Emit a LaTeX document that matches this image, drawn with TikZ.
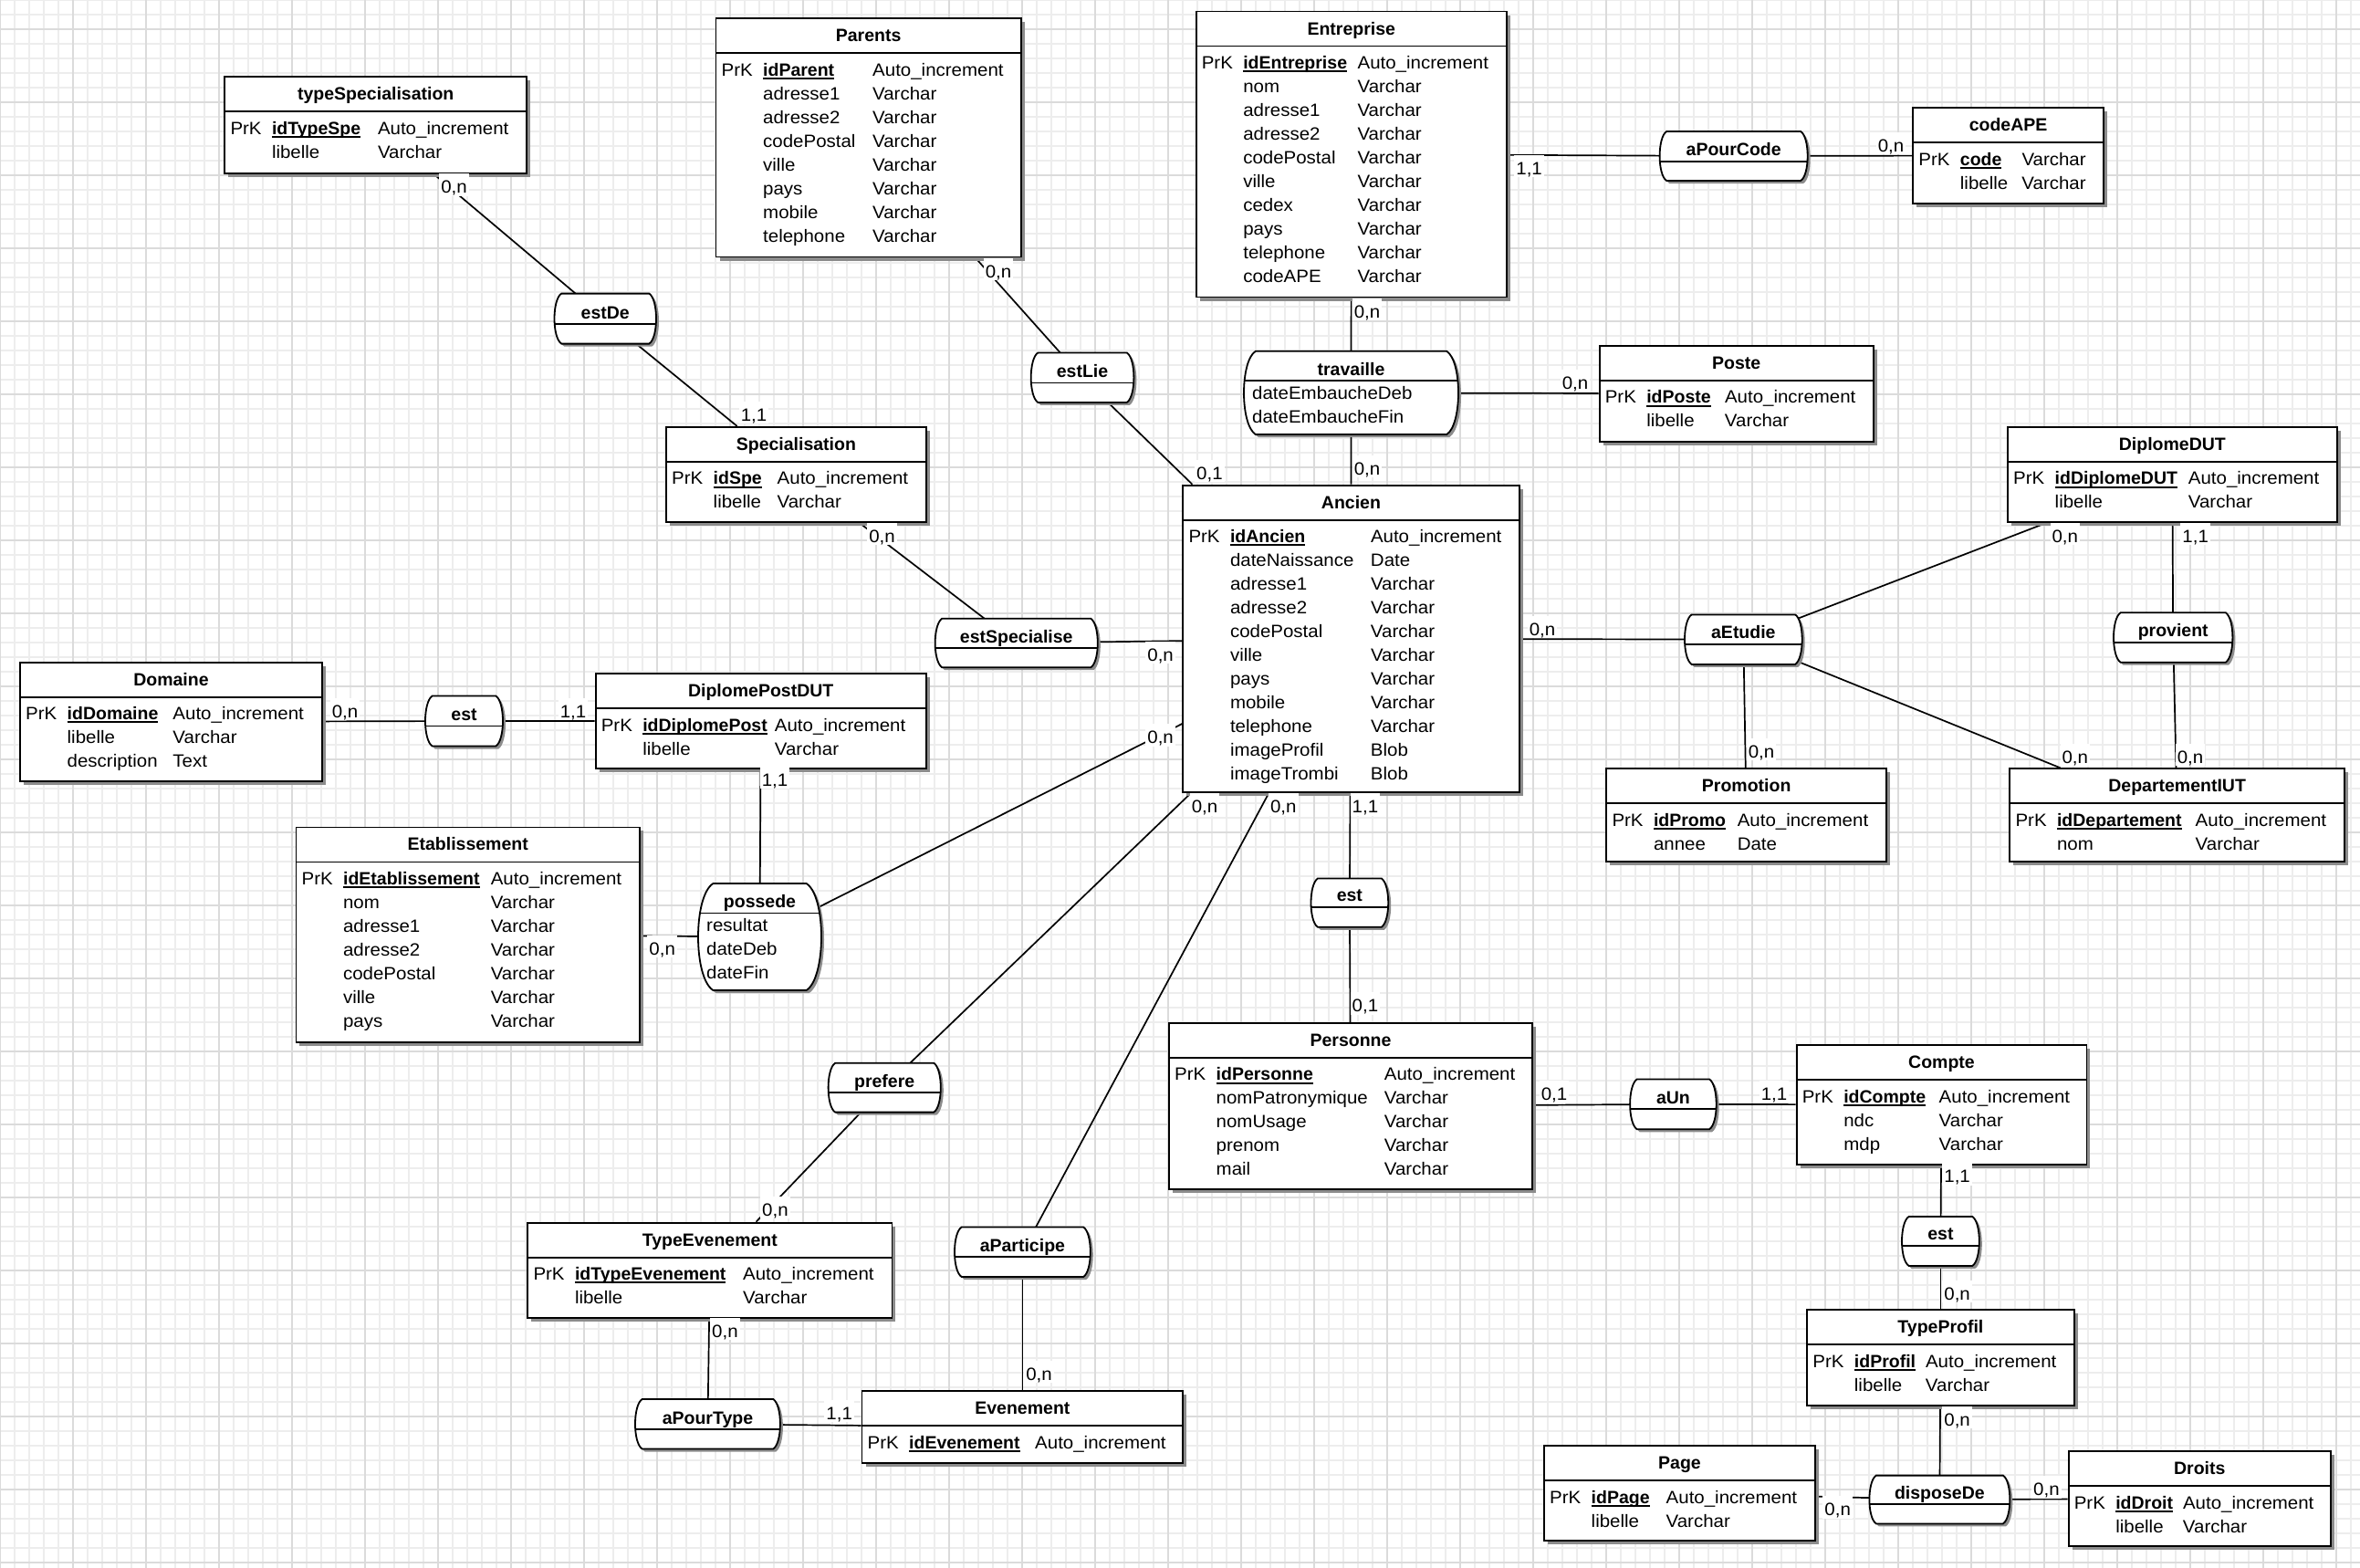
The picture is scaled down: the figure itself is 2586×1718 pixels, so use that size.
\documentclass[tikz,border=0pt]{standalone}
\usepackage{fontspec}
\setmainfont{Liberation Sans}[FakeStretch=1.05,BoldFeatures={FakeStretch=1.0}]
\usetikzlibrary{calc}
\pgfdeclarelayer{grid}
\pgfdeclarelayer{conn}
\pgfsetlayers{grid,conn,main}
\newlength\ctwo
\newlength\ulw
\newcommand\bodyfont{\fontsize{19.5}{26}\selectfont}
\newcommand\titlefont{\fontsize{19.5}{24}\selectfont\bfseries}
\newcommand\idu[1]{\settowidth\ulw{\bfseries #1}{\bfseries #1}\hspace{-\ulw}\rule[-3.7pt]{\ulw}{2pt}}
\newcommand\erow[3]{\makebox[45.5pt][l]{#1}\makebox[\ctwo][l]{#2}#3\\}
\newcommand\relpath[4]{({#1+\relc},{#2}) -- ({#3-\relc},{#2}) .. controls ({#3+\relc/3},{#2+\relv}) and ({#3+\relc/3},{#4-\relv}) .. ({#3-\relc},{#4}) -- ({#1+\relc},{#4}) .. controls ({#1-\relc/3},{#4-\relv}) and ({#1-\relc/3},{#2+\relv}) .. ({#1+\relc},{#2}) -- cycle}
\tikzset{
  ent/.style={draw, line width=1.8pt, fill=white, inner sep=0pt, rectangle},
  relnode/.style={inner sep=0pt, outer sep=0pt, rectangle},
  conn/.style={line width=1.7pt},
  card/.style={fill=white, inner xsep=2pt, inner ysep=0.5pt, text height=21pt, text depth=2.5pt, anchor=base, font=\bodyfont},
  ttl/.style={anchor=base, inner sep=0pt, font=\titlefont},
  body/.style={anchor=base west, inner sep=0pt, font=\bodyfont},
  shadowc/.style={fill=black!45},
  minorgrid/.style={draw=black!7, line width=1.2pt},
  majorgrid/.style={draw=black!14, line width=2pt},
}
\newcommand\erEntity[8]{%
  \fill[shadowc] ({#2+4},{#3+4}) rectangle ({#4+4},{#5+4});
  \node[ent, minimum width={#4-#2}, minimum height={#5-#3}] (#1) at ({(#2+#4)/2},{(#3+#5)/2}) {};
  \draw[line width=1.8pt] ({#2},{#3+38}) -- ({#4},{#3+38});
  \node[ttl] (#1-t) at ({(#2+#4)/2},{#3+25.5}) {#6};
  \node[body] (#1-b) at ({#2+6},{#3+63}) {\setlength\ctwo{#7pt}\begin{tabular}[t]{@{}l@{}}#8\end{tabular}};
}
\newcommand\erRel[7]{%
  \pgfmathsetmacro\relc{0.14*(#5-#3)}%
  \pgfmathsetmacro\relv{0.12*(#5-#3)}%
  \fill[shadowc, shift={(3,3)}] \relpath{#2}{#3}{#4}{#5};
  \filldraw[fill=white, line width=1.8pt] \relpath{#2}{#3}{#4}{#5};
  \begin{scope}
    \clip \relpath{#2}{#3}{#4}{#5};
    \draw[line width=1.8pt] ({#2-5},{#6}) -- ({#4+5},{#6});
  \end{scope}
  \node[relnode, minimum width={#4-#2}, minimum height={#5-#3}] (#1) at ({(#2+#4)/2},{(#3+#5)/2}) {};
  \node[ttl] (#1-t) at ({(#2+#4)/2},{#6-6}) {#7};
}
\begin{document}
\begin{tikzpicture}[x=1pt,y=-1pt]
\useasboundingbox (0,0) rectangle (2586,1718);
\begin{pgfonlayer}{grid}
  \fill[white] (0,0) rectangle (2586,1718);
  \foreach \i in {0,16,...,2586} \draw[minorgrid] (\i,0) -- (\i,1718);
  \foreach \j in {0,16,...,1718} \draw[minorgrid] (0,\j) -- (2586,\j);
  \foreach \i in {0,80,...,2586} \draw[majorgrid] (\i,0) -- (\i,1718);
  \foreach \j in {32,112,...,1718} \draw[majorgrid] (0,\j) -- (2586,\j);
\end{pgfonlayer}

% ---------- entities ----------
\erEntity{tspe}{246.3}{84.1}{577.2}{189.7}{typeSpecialisation}{116}{%
  \erow{PrK}{\idu{idTypeSpe}}{Auto\_increment}\erow{}{libelle}{Varchar}}
\erEntity{par}{784.5}{20.3}{1118.7}{281.5}{Parents}{120}{%
  \erow{PrK}{\idu{idParent}}{Auto\_increment}\erow{}{adresse1}{Varchar}\erow{}{adresse2}{Varchar}%
  \erow{}{codePostal}{Varchar}\erow{}{ville}{Varchar}\erow{}{pays}{Varchar}\erow{}{mobile}{Varchar}\erow{}{telephone}{Varchar}}
\erEntity{ent}{1310.6}{12.6}{1650.9}{325.5}{Entreprise}{125.3}{%
  \erow{PrK}{\idu{idEntreprise}}{Auto\_increment}\erow{}{nom}{Varchar}\erow{}{adresse1}{Varchar}\erow{}{adresse2}{Varchar}%
  \erow{}{codePostal}{Varchar}\erow{}{ville}{Varchar}\erow{}{cedex}{Varchar}\erow{}{pays}{Varchar}\erow{}{telephone}{Varchar}\erow{}{codeAPE}{Varchar}}
\erEntity{ape}{2096.2}{118.2}{2305}{222.6}{codeAPE}{67.6}{%
  \erow{PrK}{\idu{code}}{Varchar}\erow{}{libelle}{Varchar}}
\erEntity{spe}{730}{467.8}{1014.8}{571.7}{Specialisation}{70}{%
  \erow{PrK}{\idu{idSpe}}{Auto\_increment}\erow{}{libelle}{Varchar}}
\erEntity{poste}{1752.6}{378.8}{2052.7}{483.8}{Poste}{85.7}{%
  \erow{PrK}{\idu{idPoste}}{Auto\_increment}\erow{}{libelle}{Varchar}}
\erEntity{ddut}{2200}{467.8}{2560.7}{571.7}{DiplomeDUT}{146.2}{%
  \erow{PrK}{\idu{idDiplomeDUT}}{Auto\_increment}\erow{}{libelle}{Varchar}}
\erEntity{anc}{1296.3}{531.6}{1664.6}{868}{Ancien}{154}{%
  \erow{PrK}{\idu{idAncien}}{Auto\_increment}\erow{}{dateNaissance}{Date}\erow{}{adresse1}{Varchar}\erow{}{adresse2}{Varchar}%
  \erow{}{codePostal}{Varchar}\erow{}{ville}{Varchar}\erow{}{pays}{Varchar}\erow{}{mobile}{Varchar}\erow{}{telephone}{Varchar}%
  \erow{}{imageProfil}{Blob}\erow{}{imageTrombi}{Blob}}
\erEntity{dom}{22}{725.7}{353}{856}{Domaine}{115.8}{%
  \erow{PrK}{\idu{idDomaine}}{Auto\_increment}\erow{}{libelle}{Varchar}\erow{}{description}{Text}}
\erEntity{dpd}{652.6}{738.3}{1014.8}{842}{DiplomePostDUT}{144.6}{%
  \erow{PrK}{\idu{idDiplomePost}}{Auto\_increment}\erow{}{libelle}{Varchar}}
\erEntity{promo}{1760.3}{842.2}{2067}{944.3}{Promotion}{91.8}{%
  \erow{PrK}{\idu{idPromo}}{Auto\_increment}\erow{}{annee}{Date}}
\erEntity{dep}{2202.3}{842.2}{2569}{944.3}{DepartementIUT}{151.7}{%
  \erow{PrK}{\idu{idDepartement}}{Auto\_increment}\erow{}{nom}{Varchar}}
\erEntity{etab}{324.4}{906.4}{701}{1141.7}{Etablissement}{161.7}{%
  \erow{PrK}{\idu{idEtablissement}}{Auto\_increment}\erow{}{nom}{Varchar}\erow{}{adresse1}{Varchar}\erow{}{adresse2}{Varchar}%
  \erow{}{codePostal}{Varchar}\erow{}{ville}{Varchar}\erow{}{pays}{Varchar}}
\erEntity{pers}{1281}{1120.8}{1679}{1303.3}{Personne}{184.2}{%
  \erow{PrK}{\idu{idPersonne}}{Auto\_increment}\erow{}{nomPatronymique}{Varchar}\erow{}{nomUsage}{Varchar}%
  \erow{}{prenom}{Varchar}\erow{}{mail}{Varchar}}
\erEntity{cpt}{1968.6}{1145}{2286.4}{1275.8}{Compte}{104.4}{%
  \erow{PrK}{\idu{idCompte}}{Auto\_increment}\erow{}{ndc}{Varchar}\erow{}{mdp}{Varchar}}
\erEntity{tev}{578.3}{1339.6}{977.4}{1444}{TypeEvenement}{184.2}{%
  \erow{PrK}{\idu{idTypeEvenement}}{Auto\_increment}\erow{}{libelle}{Varchar}}
\erEntity{tpro}{1980.2}{1435.2}{2272.6}{1539.7}{TypeProfil}{78.1}{%
  \erow{PrK}{\idu{idProfil}}{Auto\_increment}\erow{}{libelle}{Varchar}}
\erEntity{evt}{944.5}{1524.3}{1296.3}{1603}{Evenement}{138}{%
  \erow{PrK}{\idu{idEvenement}}{Auto\_increment}}
\erEntity{page}{1692}{1584}{1989}{1688}{Page}{82}{%
  \erow{PrK}{\idu{idPage}}{Auto\_increment}\erow{}{libelle}{Varchar}}
\erEntity{droits}{2266.6}{1590.3}{2554}{1693.6}{Droits}{73.7}{%
  \erow{PrK}{\idu{idDroit}}{Auto\_increment}\erow{}{libelle}{Varchar}}

% ---------- relationships ----------
\erRel{estde}{607.5}{321.6}{719}{376.6}{355}{estDe}
\erRel{estlie}{1129.7}{386.5}{1242.4}{440.9}{419.5}{estLie}
\erRel{trav}{1363}{384.8}{1598}{476}{417.3}{travaille}
\node[body] (trav-b) at (1372,437.5) {\begin{tabular}[t]{@{}l@{}}dateEmbaucheDeb\\dateEmbaucheFin\end{tabular}};
\erRel{apc}{1818.6}{144}{1980.7}{198}{177}{aPourCode}
\erRel{estsp}{1024.7}{677.8}{1202.8}{731.2}{710.3}{estSpecialise}
\erRel{aet}{1846}{673.4}{1974.7}{727.9}{705.9}{aEtudie}
\erRel{prov}{2316}{671.3}{2446.4}{725.7}{703.7}{provient}
\erRel{estA}{466}{762.5}{551}{817.5}{795.5}{est}
\erRel{poss}{765}{968}{900}{1085}{1000.5}{possede}
\node[body] (poss-b) at (774,1020.6) {\begin{tabular}[t]{@{}l@{}}resultat\\dateDeb\\dateFin\end{tabular}};
\erRel{estB}{1436.5}{962.5}{1521.2}{1015.8}{993.8}{est}
\erRel{pref}{907.6}{1164.8}{1030.8}{1218.6}{1197.2}{prefere}
\erRel{aun}{1786.1}{1182.4}{1880.7}{1237.3}{1215.3}{aUn}
\erRel{estC}{2084}{1333}{2168.8}{1386.9}{1364.9}{est}
\erRel{apart}{1046}{1344.5}{1194.8}{1399}{1377}{aParticipe}
\erRel{apt}{696}{1533}{854.9}{1587.5}{1566}{aPourType}
\erRel{disp}{2048.4}{1616.6}{2202.3}{1669.4}{1648}{disposeDe}

% ---------- connectors ----------
\begin{pgfonlayer}{conn}
\draw[conn] (tspe) -- (estde.center);
\draw[conn] (spe) -- (estde.center);
\draw[conn] (par) -- (estlie.center);
\draw[conn] (anc) -- (estlie.center);
\draw[conn] (ent) -- (trav.center);
\draw[conn] (anc) -- (trav.center);
\draw[conn] (poste) -- (trav.center);
\draw[conn] (ent) -- (apc.center);
\draw[conn] (ape) -- (apc.center);
\draw[conn] (spe) -- (estsp.center);
\draw[conn] (anc) -- (estsp.center);
\draw[conn] (anc) -- (aet.center);
\draw[conn] (ddut) -- (aet.center);
\draw[conn] (promo) -- (aet.center);
\draw[conn] (dep) -- (aet.center);
\draw[conn] (ddut) -- (prov.center);
\draw[conn] (dep) -- (prov.center);
\draw[conn] (dom) -- (estA.center);
\draw[conn] (dpd) -- (estA.center);
\draw[conn] (dpd) -- (poss.center);
\draw[conn] (etab) -- (poss.center);
\draw[conn] (anc) -- (poss.center);
\draw[conn] (anc) -- (pref.center);
\draw[conn] (tev) -- (pref.center);
\draw[conn] (anc) -- (apart.center);
\draw[conn] (evt) -- (apart.center);
\draw[conn] (tev) -- (apt.center);
\draw[conn] (evt) -- (apt.center);
\draw[conn] (anc) -- (estB.center);
\draw[conn] (pers) -- (estB.center);
\draw[conn] (pers) -- (aun.center);
\draw[conn] (cpt) -- (aun.center);
\draw[conn] (cpt) -- (estC.center);
\draw[conn] (tpro) -- (estC.center);
\draw[conn] (tpro) -- (disp.center);
\draw[conn] (page) -- (disp.center);
\draw[conn] (droits) -- (disp.center);
\end{pgfonlayer}

% ---------- cardinalities ----------
\node[card] (k01) at (497.5,211.5) {0,n};
\node[card] (k02) at (826,461) {1,1};
\node[card] (k03) at (1094,304) {0,n};
\node[card] (k04) at (1325.4,525.4) {0,1};
\node[card] (k05) at (1498,348) {0,n};
\node[card] (k06) at (1498,520) {0,n};
\node[card] (k07) at (1726,426) {0,n};
\node[card] (k08) at (1675.6,191) {1,1};
\node[card] (k09) at (2072,166.4) {0,n};
\node[card] (k10) at (966.5,594) {0,n};
\node[card] (k11) at (1271.6,724) {0,n};
\node[card] (k12) at (1690,696.4) {0,n};
\node[card] (k13) at (2262.8,594) {0,n};
\node[card] (k14) at (2405.7,594) {1,1};
\node[card] (k15) at (2400,836) {0,n};
\node[card] (k16) at (1930,830) {0,n};
\node[card] (k17) at (2273.8,836) {0,n};
\node[card] (k18) at (378,786) {0,n};
\node[card] (k19) at (628,786) {1,1};
\node[card] (k20) at (849,861) {1,1};
\node[card] (k21) at (725.7,1046.4) {0,n};
\node[card] (k22) at (1271.6,814.6) {0,n};
\node[card] (k23) at (1320,890.8) {0,n};
\node[card] (k24) at (1406.3,890.8) {0,n};
\node[card] (k25) at (1495.9,890.8) {1,1};
\node[card] (k26) at (1495.9,1108.5) {0,1};
\node[card] (k27) at (1703,1205.8) {0,1};
\node[card] (k28) at (1944,1205.8) {1,1};
\node[card] (k29) at (2144.6,1295.5) {1,1};
\node[card] (k30) at (2144.6,1424) {0,n};
\node[card] (k31) at (2144.6,1562) {0,n};
\node[card] (k32) at (2013.7,1660.5) {0,n};
\node[card] (k33) at (2242.4,1638.5) {0,n};
\node[card] (k34) at (849.4,1332.3) {0,n};
\node[card] (k35) at (794.4,1465.3) {0,n};
\node[card] (k36) at (919.7,1555) {1,1};
\node[card] (k37) at (1138.5,1512) {0,n};
\end{tikzpicture}
\end{document}
